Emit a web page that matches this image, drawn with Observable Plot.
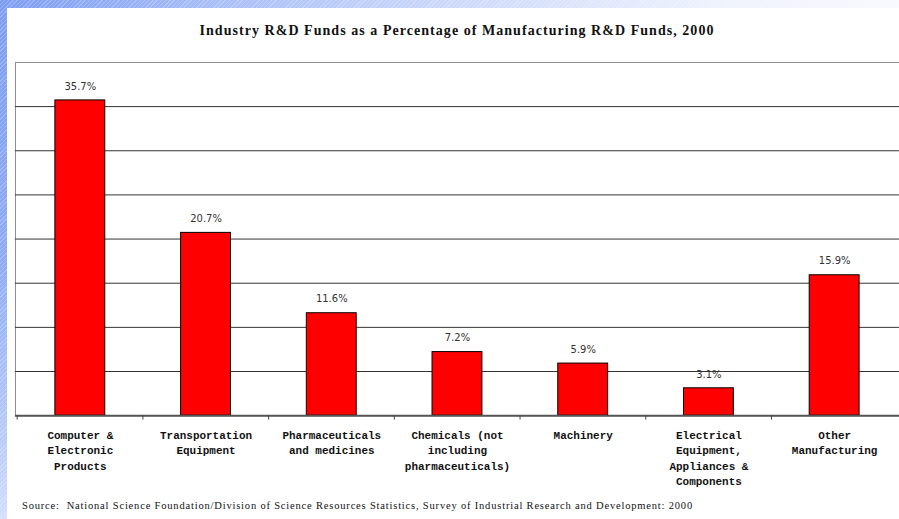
<!DOCTYPE html>
<html>
<head>
<meta charset="utf-8">
<script src="https://cdn.jsdelivr.net/npm/d3@7"></script>
<script src="https://cdn.jsdelivr.net/npm/@observablehq/plot@0.6"></script>
<style>
  html, body { margin: 0; padding: 0; }
  body { width: 899px; height: 519px; overflow: hidden; position: relative; background: #fff; }
  #bandTop {
    position: absolute; left: 0; top: 0; width: 899px; height: 8px;
    background:
      repeating-linear-gradient(135deg, rgba(255,255,255,0.22) 0 1px, rgba(255,255,255,0) 1px 3px),
      linear-gradient(to right, #7d9df3 0%, #a9bff7 25%, #d2ddfa 55%, #eef2fd 80%, #f8f9fe 100%);
  }
  #bandLeft {
    position: absolute; left: 0; top: 0; width: 7px; height: 519px;
    background:
      repeating-linear-gradient(135deg, rgba(255,255,255,0.22) 0 1px, rgba(255,255,255,0) 1px 3px),
      linear-gradient(to bottom, #7d9df3 0%, #8eabf5 50%, #b9cbf8 85%, #d3defb 100%);
  }
  #title {
    position: absolute; left: 15px; width: 884px; top: 22px; text-align: center;
    font-family: "Liberation Serif", "Times New Roman", serif; font-weight: bold;
    font-size: 14px; line-height: 17px; color: #111; white-space: nowrap;
  }
  #chart { position: absolute; left: 0; top: 40px; width: 899px; height: 450px; overflow: hidden; }
  #caption {
    position: absolute; left: 22px; top: 499px;
    font-family: "Liberation Serif", "Times New Roman", serif;
    font-size: 10.5px; line-height: 14px; color: #111; white-space: nowrap;
  }
</style>
</head>
<body>
<div id="bandTop"></div>
<div id="bandLeft"></div>
<div id="title"><span id="titleText">Industry R&amp;D Funds as a Percentage of Manufacturing R&amp;D Funds, 2000</span></div>
<div id="chart"></div>
<div id="caption"><span id="captionText">Source:&nbsp; National Science Foundation/Division of Science Resources Statistics, Survey of Industrial Research and Development: 2000</span></div>
<script>
const categories = [
  "Computer & Electronic Products",
  "Transportation Equipment",
  "Pharmaceuticals and medicines",
  "Chemicals (not including pharmaceuticals)",
  "Machinery",
  "Electrical Equipment, Appliances & Components",
  "Other Manufacturing"
];
const tickLabels = [
  "Computer &\nElectronic\nProducts",
  "Transportation\nEquipment",
  "Pharmaceuticals\nand medicines",
  "Chemicals (not\nincluding\npharmaceuticals)",
  "Machinery",
  "Electrical\nEquipment,\nAppliances &\nComponents",
  "Other\nManufacturing"
];
const values = [35.7, 20.7, 11.6, 7.2, 5.9, 3.1, 15.9];
const gridTicks = [5, 10, 15, 20, 25, 30, 35];
const yDomain = [0, 40];

const data = categories.map((c, i) => ({category: c, value: values[i], label: tickLabels[i]}));

const W = 901, mL = 15, mR = 0;
const step = (W - mL - mR) / categories.length;

const chart = Plot.plot({
  width: W,
  height: 450,
  marginTop: 22,
  marginBottom: 74,
  marginLeft: mL,
  marginRight: mR,
  style: {background: "transparent", overflow: "visible"},
  x: {domain: categories, paddingInner: 0.6, paddingOuter: 0.3, axis: null},
  y: {domain: yDomain, axis: null},
  marks: [
    Plot.frame({stroke: "#8c8c8c", strokeWidth: 1}),
    Plot.ruleY(gridTicks, {stroke: "#333", strokeWidth: 1}),
    Plot.barY(data, {x: "category", y: "value", fill: "#ff0000", stroke: "#000", strokeWidth: 1}),
    Plot.ruleY([0], {stroke: "#555", strokeWidth: 2}),
    Plot.ruleX(categories, {x: d => d, y1: 0, y2: -0.5, dx: -step / 2, stroke: "#444"}),
    Plot.text(data, {
      x: "category", y: "value", text: d => d.value.toFixed(1) + "%",
      dy: -14, fontSize: 10, fontFamily: "DejaVu Sans", fill: "#333"
    }),
    Plot.text(data, {
      x: "category", text: "label", frameAnchor: "bottom", lineAnchor: "top",
      dy: 12, fontSize: 11, fontWeight: "bold", fontFamily: "Liberation Mono",
      lineHeight: 1.42, fill: "#111"
    })
  ]
});
document.getElementById("chart").appendChild(chart);

function fitWidth(id, target) {
  const el = document.getElementById(id);
  const n = el.textContent.length;
  el.style.letterSpacing = "0px";
  const w = el.getBoundingClientRect().width;
  el.style.letterSpacing = ((target - w) / n) + "px";
}
fitWidth("titleText", 515);
fitWidth("captionText", 671);
</script>
</body>
</html>
